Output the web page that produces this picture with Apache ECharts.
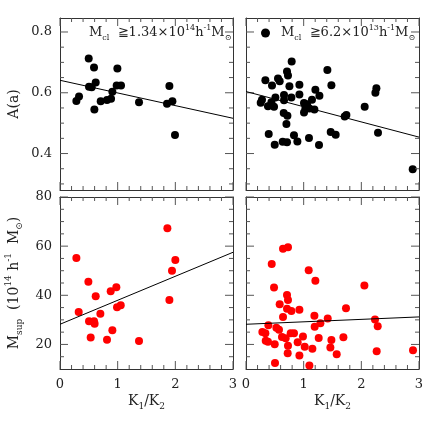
<!DOCTYPE html>
<html><head><meta charset="utf-8">
<script src="https://cdn.jsdelivr.net/npm/echarts@6/dist/echarts.min.js"></script>
<style>html,body{margin:0;padding:0;background:#fff}#c{width:436px;height:436px}</style>
</head><body><div id="c"></div>
<script>
// ---- data ----
const xMajor = [0, 1, 2, 3];
const xMinor = [0.2,0.4,0.6,0.8,1.2,1.4,1.6,1.8,2.2,2.4,2.6,2.8];
const aMajor = [0.4, 0.6, 0.8];
const aMinor = [0.3,0.35,0.45,0.5,0.55,0.65,0.7,0.75];
const mMajor = [20, 40, 60, 80];
const mMinor = [15,25,30,35,45,50,55,65,70,75];

const tlK = [0.284,0.33,0.498,0.503,0.55,0.59,0.619,0.596,0.706,0.815,0.885,0.908,0.995,0.983,1.058,1.37,1.897,1.856,1.949,1.994];
const tlA = [0.573,0.588,0.713,0.620,0.618,0.683,0.634,0.545,0.572,0.576,0.580,0.603,0.680,0.624,0.624,0.569,0.622,0.564,0.572,0.461];

const blK = [0.284,0.324,0.492,0.503,0.532,0.59,0.60,0.619,0.70,0.815,0.879,0.908,0.977,0.989,1.053,1.37,1.862,1.897,1.942,2.0];
const blM = [55.2,33.2,45.5,29.4,22.8,29.4,28.4,39.6,32.5,21.9,41.6,25.8,43.3,35.1,35.9,21.4,67.3,38.1,50.0,54.4];

const trK = [0.792,0.711,0.728,1.411,0.336,0.451,0.555,0.584,0.753,0.926,1.481,1.203,1.273,0.926,0.659,0.510,0.277,0.255,0.381,0.440,
             0.486,0.787,0.659,1.006,1.058,1.030,1.099,1.186,1.144,0.654,0.718,0.701,1.006,1.711,1.741,0.394,0.498,0.636,0.711,0.832,
             0.891,1.092,1.266,1.469,1.555,2.244,2.261,2.058,2.289,2.891];
const trA = [0.703,0.670,0.657,0.675,0.641,0.624,0.647,0.638,0.621,0.626,0.625,0.610,0.590,0.594,0.593,0.584,0.577,0.567,0.556,0.569,
             0.554,0.584,0.575,0.566,0.562,0.549,0.548,0.545,0.577,0.533,0.524,0.497,0.535,0.522,0.527,0.464,0.429,0.439,0.437,0.460,
             0.440,0.451,0.428,0.471,0.462,0.600,0.615,0.554,0.468,0.348];

const brK = [0.642,0.728,0.446,1.087,1.203,2.053,0.486,0.711,0.728,0.584,0.711,0.787,0.926,0.642,1.734,1.186,1.417,1.290,2.237,2.284,
             1.191,0.388,0.527,0.572,0.284,0.336,0.775,0.832,0.624,0.688,0.988,1.261,1.689,1.481,0.342,0.381,0.896,0.498,0.728,1.018,
             1.151,1.463,0.723,0.926,1.573,2.266,2.896,0.503,1.099];
const brM = [58.9,59.6,52.7,50.2,45.9,44.0,43.2,40.1,38.1,36.4,34.5,33.6,34.1,31.2,34.7,31.7,30.6,28.6,30.1,27.4,
             27.2,27.8,26.8,26.0,25.1,24.5,24.5,24.5,23.0,22.5,23.2,22.6,22.9,21.8,21.5,21.1,20.9,20.1,19.5,19.1,
             18.2,18.7,16.4,15.5,16.0,17.2,17.6,12.4,11.4];

const tlFitK = [0, 3], tlFitA = [0.641, 0.516];
const trFitK = [0, 3], trFitA = [0.604, 0.454];
const blFitK = [0, 3], blFitM = [28.2, 57.5];
const brFitK = [0, 3], brFitM = [28.2, 31.2];

// ---- styling / layout ----
const FONT = '"DejaVu Serif", "Liberation Serif", serif';
const LINE = '#333', TICK = '#555', TXT = '#222';
const MAJ = 8, MIN = 4;
const zip = (a, b) => a.map((v, i) => [v, b[i]]);
const richC = {
  n: {fontFamily: FONT, fontSize: 14, color: TXT, lineHeight: 20},
  s: {fontFamily: FONT, fontSize: 9, color: TXT, lineHeight: 9, verticalAlign: 'bottom'},
  p: {fontFamily: FONT, fontSize: 9, color: TXT, lineHeight: 9, verticalAlign: 'top'}
};
const richL = {
  f: {fontFamily: FONT, fontSize: 13, color: TXT, lineHeight: 18, padding: [0, 0, 0, 6]},
  n: {fontFamily: FONT, fontSize: 13, color: TXT, lineHeight: 18},
  s: {fontFamily: FONT, fontSize: 8, color: TXT, lineHeight: 8, verticalAlign: 'bottom'},
  p: {fontFamily: FONT, fontSize: 8, color: TXT, lineHeight: 8, verticalAlign: 'top'}
};
const richG = {
  n: {fontFamily: FONT, fontSize: 13, fill: TXT, lineHeight: 18},
  s: {fontFamily: FONT, fontSize: 8, fill: TXT, lineHeight: 8, verticalAlign: 'bottom'},
  p: {fontFamily: FONT, fontSize: 8, fill: TXT, lineHeight: 8, verticalAlign: 'top'}
};

const PW = 173, PH = 172;
const XMIN = 0, XMAX = 3;
const panels = [
  {left: 60, top: 18, ymin: 0.28, ymax: 0.846, yMaj: aMajor, yMin: aMinor,
   xl: false, yl: true, yname: '{n|A(a)}', yfmt: v => v.toFixed(1)},
  {left: 246, top: 18, ymin: 0.28, ymax: 0.846, yMaj: aMajor, yMin: aMinor, xl: false, yl: false},
  {left: 60, top: 197, ymin: 10, ymax: 80, yMaj: mMajor, yMin: mMinor,
   xl: true, yl: true, yname: '{n|M}{s|sup}{n|  (10}{p|14}{n| h}{p|-1}{n|  M}{s|⊙}{n|)}', yfmt: v => String(v)},
  {left: 246, top: 197, ymin: 10, ymax: 80, yMaj: mMajor, yMin: mMinor, xl: true, yl: false}
];
const kName = '{n|K}{s|1}{n|/K}{s|2}';

const grids = [], xAxes = [], yAxes = [], idx = [];
panels.forEach(p => {
  grids.push({left: p.left, top: p.top, width: PW, height: PH});
  const g = grids.length - 1;
  const mkX = pos => ({
    type: 'value', gridIndex: g, min: XMIN, max: XMAX, interval: 1, position: pos,
    axisLine: {show: true, onZero: false, lineStyle: {color: LINE, width: 1}},
    axisTick: {show: false}, splitLine: {show: false}
  });
  const xb = mkX('bottom');
  xb.axisLabel = {show: p.xl, margin: 9, color: TXT, fontFamily: FONT, fontSize: 13, formatter: v => String(v)};
  if (p.xl) {
    xb.name = kName; xb.nameLocation = 'middle'; xb.nameGap = 22;
    xb.nameTextStyle = {rich: richC, fontFamily: FONT};
  }
  xAxes.push(xb);
  const xi = xAxes.length - 1;
  const xt = mkX('top'); xt.axisLabel = {show: false};
  xAxes.push(xt);
  const mkY = pos => ({
    type: 'value', gridIndex: g, min: p.ymin, max: p.ymax, position: pos,
    axisLine: {show: true, onZero: false, lineStyle: {color: LINE, width: 1}},
    axisTick: {show: false}, splitLine: {show: false}
  });
  const yl = mkY('left');
  yl.axisLabel = {show: p.yl, customValues: p.yMaj, margin: 8, color: TXT, fontFamily: FONT, fontSize: 13, formatter: p.yfmt};
  if (p.yl) {
    yl.name = p.yname; yl.nameLocation = 'middle'; yl.nameGap = 36;
    yl.nameTextStyle = {rich: richC, fontFamily: FONT};
  }
  yAxes.push(yl);
  const yi = yAxes.length - 1;
  const yr = mkY('right'); yr.axisLabel = {show: false};
  yAxes.push(yr);
  idx.push([xi, yi]);
});

function fit(i, xs, ys) {
  return {type: 'line', xAxisIndex: idx[i][0], yAxisIndex: idx[i][1], data: zip(xs, ys), symbol: 'none',
          lineStyle: {color: '#000', width: 1}};
}
function dots(i, name, xs, ys, color) {
  return {type: 'scatter', name: name, xAxisIndex: idx[i][0], yAxisIndex: idx[i][1], data: zip(xs, ys),
          symbol: 'circle', symbolSize: 8, itemStyle: {color: color, opacity: 1}};
}
// inward frame ticks drawn as thin rectangle symbols sitting on the frame, offset inward
function tickMarks(i, pts, size, offset) {
  return {type: 'scatter', xAxisIndex: idx[i][0], yAxisIndex: idx[i][1], data: pts,
          symbol: 'rect', symbolSize: size, symbolOffset: offset, clip: false, silent: true,
          itemStyle: {color: TICK, opacity: 1}, emphasis: {disabled: true}};
}
const series = [
  fit(0, tlFitK, tlFitA), dots(0, 'tldots', tlK, tlA, '#000'),
  fit(1, trFitK, trFitA), dots(1, 'trdots', trK, trA, '#000'),
  fit(2, blFitK, blFitM), dots(2, 'bldots', blK, blM, '#ff0000'),
  fit(3, brFitK, brFitM), dots(3, 'brdots', brK, brM, '#ff0000')
];
panels.forEach((p, i) => {
  [[xMajor, MAJ], [xMinor, MIN]].forEach(([vals, len]) => {
    series.push(tickMarks(i, vals.map(v => [v, p.ymin]), [1, len], [0, -len / 2]));
    series.push(tickMarks(i, vals.map(v => [v, p.ymax]), [1, len], [0, len / 2]));
  });
  [[p.yMaj, MAJ], [p.yMin, MIN]].forEach(([vals, len]) => {
    series.push(tickMarks(i, vals.map(v => [XMIN, v]), [len, 1], [len / 2, 0]));
    series.push(tickMarks(i, vals.map(v => [XMAX, v]), [len, 1], [-len / 2, 0]));
  });
});

const chart = echarts.init(document.getElementById('c'));
chart.setOption({
  animation: false,
  grid: grids,
  xAxis: xAxes,
  yAxis: yAxes,
  legend: {
    show: true, left: 261, top: 24, padding: 0, data: ['trdots'], icon: 'circle', itemWidth: 9, itemHeight: 9,
    selectedMode: false,
    formatter: () => '{f|M}{s|cl}{n|  ≧6.2×10}{p|13}{n|h}{p|-1}{n|M}{s|⊙}',
    textStyle: {rich: richL, fontFamily: FONT}
  },
  graphic: [{
    type: 'text', left: 89, top: 24,
    style: {text: '{n|M}{s|cl}{n|  ≧1.34×10}{p|14}{n|h}{p|-1}{n|M}{s|⊙}', rich: richG, fill: TXT, font: '13px ' + FONT}
  }],
  series: series
});
</script></body></html>
